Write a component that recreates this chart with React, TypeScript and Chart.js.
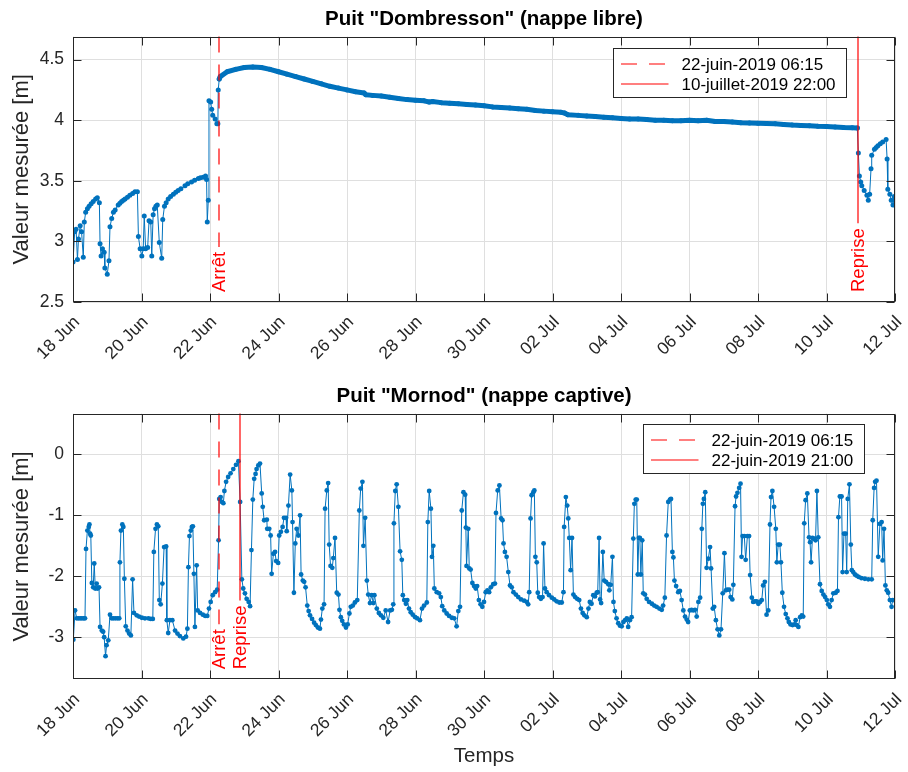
import React, { useEffect, useRef } from "react";
import { Chart, registerables } from "chart.js";

Chart.register(...registerables);

const FONT = '"Liberation Sans", Arial, Helvetica, sans-serif';
const AXIS_COLOR = "#262626";
const GRID_COLOR = "#dfdfdf";
const SERIES_COLOR = "#0072BD";
const EVENT_COLOR = "#FF0000";

// x axis: days since 18 Jun 2019 00:00
const X_TICK_DAYS = [0, 2, 4, 6, 8, 10, 12, 14, 16, 18, 20, 22, 24];
const X_TICK_LABELS = ["18 Jun", "20 Jun", "22 Jun", "24 Jun", "26 Jun", "28 Jun", "30 Jun", "02 Jul", "04 Jul", "06 Jul", "08 Jul", "10 Jul", "12 Jul"];
const DOMBRESSON_Y_TICKS = [2.5, 3, 3.5, 4, 4.5];
const MORNOD_Y_TICKS = [-3, -2, -1, 0];

const DOMBRESSON_TITLE = 'Puit "Dombresson" (nappe libre)';
const MORNOD_TITLE = 'Puit "Mornod" (nappe captive)';
const Y_LABEL = "Valeur mesurée [m]";
const X_LABEL = "Temps";

const DOMBRESSON_EVENTS = [
  { day: 4.2604, label: "Arrêt", legend: "22-juin-2019 06:15", dashed: true },
  { day: 22.9167, label: "Reprise", legend: "10-juillet-2019 22:00", dashed: false },
];
const MORNOD_EVENTS = [
  { day: 4.2604, label: "Arrêt", legend: "22-juin-2019 06:15", dashed: true },
  { day: 4.875, label: "Reprise", legend: "22-juin-2019 21:00", dashed: false },
];

// Puit "Dombresson" — [day, level m]
const DOMBRESSON: [number, number][] = [
  [0.00, 2.83], [0.05, 3.08], [0.09, 3.10], [0.13, 2.85], [0.16, 3.02], [0.21, 3.13], [0.25, 3.08], [0.30, 2.87],
  [0.33, 3.16], [0.37, 3.24], [0.42, 3.27], [0.47, 3.29], [0.53, 3.31], [0.59, 3.33], [0.66, 3.35], [0.71, 3.36],
  [0.77, 3.32], [0.79, 2.98], [0.82, 2.88], [0.86, 2.94], [0.91, 2.91], [0.93, 2.78], [1.00, 2.73], [1.05, 2.84],
  [1.08, 3.12], [1.13, 3.19], [1.18, 3.24], [1.23, 3.26], [1.32, 3.30], [1.37, 3.315], [1.42, 3.33], [1.47, 3.34],
  [1.52, 3.35], [1.59, 3.365], [1.66, 3.38], [1.74, 3.395], [1.81, 3.41], [1.88, 3.41], [1.91, 3.04], [1.96, 2.94],
  [2.01, 2.88], [2.05, 2.94], [2.08, 3.21], [2.12, 2.94], [2.18, 2.95], [2.22, 3.17], [2.27, 3.16], [2.30, 2.88],
  [2.34, 3.22], [2.38, 3.27], [2.42, 3.29], [2.46, 3.30], [2.52, 2.99], [2.59, 2.86], [2.62, 3.18], [2.67, 3.29],
  [2.72, 3.32], [2.78, 3.35], [2.85, 3.37], [2.93, 3.39], [3.00, 3.405], [3.07, 3.42], [3.15, 3.435], [3.27, 3.46],
  [3.35, 3.475], [3.46, 3.49], [3.55, 3.505], [3.66, 3.52], [3.72, 3.525], [3.80, 3.53], [3.87, 3.54], [3.90, 3.51],
  [3.92, 3.16], [3.95, 3.34], [3.97, 4.16], [4.02, 4.15], [4.05, 4.09], [4.08, 4.04], [4.15, 4.01], [4.20, 3.97],
  [4.23, 3.97], [4.24, 4.25], [4.27, 4.34], [4.30, 4.36], [4.50, 4.40], [4.75, 4.42], [5.00, 4.435], [5.25, 4.44],
  [5.50, 4.435], [5.75, 4.42], [6.00, 4.40], [6.25, 4.38], [6.50, 4.36], [6.75, 4.34], [7.00, 4.32], [7.25, 4.30],
  [7.50, 4.28], [7.75, 4.265], [8.00, 4.25], [8.25, 4.235], [8.50, 4.225], [8.55, 4.21], [8.75, 4.205], [9.00, 4.20],
  [9.25, 4.19], [9.50, 4.18], [9.75, 4.17], [10.00, 4.165], [10.25, 4.16], [10.40, 4.15], [10.50, 4.155], [10.75, 4.145],
  [11.00, 4.14], [11.25, 4.135], [11.50, 4.13], [11.75, 4.125], [12.00, 4.12], [12.25, 4.11], [12.50, 4.105], [12.75, 4.10],
  [13.00, 4.095], [13.25, 4.09], [13.50, 4.08], [13.75, 4.075], [14.00, 4.07], [14.25, 4.065], [14.35, 4.06], [14.45, 4.045],
  [14.75, 4.04], [15.00, 4.035], [15.25, 4.03], [15.50, 4.025], [15.75, 4.02], [16.00, 4.015], [16.25, 4.01], [16.50, 4.01],
  [16.75, 4.005], [17.00, 4.00], [17.25, 4.00], [17.50, 3.995], [17.75, 3.995], [18.00, 4.00], [18.25, 3.995], [18.50, 4.00],
  [18.75, 3.99], [19.00, 3.99], [19.25, 3.985], [19.50, 3.98], [19.75, 3.978], [20.00, 3.975], [20.25, 3.972], [20.50, 3.97],
  [20.75, 3.965], [21.00, 3.96], [21.25, 3.957], [21.50, 3.955], [21.75, 3.95], [22.00, 3.948], [22.25, 3.945], [22.50, 3.94],
  [22.75, 3.938], [22.90, 3.935], [22.93, 3.73], [22.96, 3.54], [23.00, 3.49], [23.03, 3.46], [23.10, 3.42], [23.18, 3.38],
  [23.22, 3.34], [23.26, 3.39], [23.30, 3.60], [23.32, 3.71], [23.40, 3.76], [23.45, 3.775], [23.50, 3.79], [23.57, 3.805],
  [23.64, 3.82], [23.74, 3.84], [23.77, 3.68], [23.79, 3.43], [23.85, 3.39], [23.89, 3.34], [23.94, 3.30], [23.98, 3.37],
  [24.00, 3.35],
];
// stretch of continuous logging drawn as a dense (thick) trace
const DOMBRESSON_DENSE: [number, number] = [4.26, 22.91];

// Puit "Mornod" — [day, level m]
const MORNOD: [number, number][] = [
  [0.01, -3.04], [0.06, -2.56], [0.11, -2.69], [0.16, -2.69], [0.21, -2.69], [0.26, -2.69], [0.31, -2.69], [0.35, -2.69],
  [0.38, -1.55], [0.42, -1.25], [0.46, -1.19], [0.48, -1.15], [0.50, -1.30], [0.52, -1.33], [0.55, -2.11], [0.59, -2.18],
  [0.62, -1.79], [0.65, -2.20], [0.69, -2.12], [0.72, -2.20], [0.76, -2.18], [0.79, -2.83], [0.84, -2.89], [0.88, -2.91],
  [0.91, -3.00], [0.95, -3.31], [0.98, -3.13], [1.03, -3.05], [1.08, -2.63], [1.13, -2.69], [1.18, -2.69], [1.24, -2.69],
  [1.30, -2.69], [1.35, -2.69], [1.37, -1.77], [1.40, -1.25], [1.44, -1.15], [1.47, -1.19], [1.50, -2.04], [1.54, -2.82],
  [1.59, -2.89], [1.64, -2.94], [1.69, -2.97], [1.74, -2.05], [1.78, -2.60], [1.86, -2.64], [1.93, -2.66], [2.01, -2.68],
  [2.10, -2.69], [2.20, -2.69], [2.27, -2.70], [2.33, -2.70], [2.36, -1.60], [2.41, -1.22], [2.45, -1.15], [2.49, -1.18],
  [2.52, -2.39], [2.56, -2.46], [2.61, -2.12], [2.66, -1.52], [2.72, -1.51], [2.74, -2.72], [2.78, -2.93], [2.83, -2.72],
  [2.90, -2.72], [2.98, -2.89], [3.05, -2.94], [3.12, -2.98], [3.22, -3.02], [3.30, -2.99], [3.34, -2.86], [3.37, -1.85],
  [3.40, -1.34], [3.44, -1.25], [3.47, -1.19], [3.50, -1.18], [3.53, -1.96], [3.56, -2.83], [3.61, -1.82], [3.64, -2.56],
  [3.71, -2.60], [3.79, -2.63], [3.86, -2.65], [3.92, -2.65], [3.97, -2.53], [4.02, -2.42], [4.08, -2.31], [4.15, -2.26],
  [4.21, -2.22], [4.25, -1.41], [4.27, -0.73], [4.31, -0.70], [4.35, -0.78], [4.39, -0.80], [4.42, -0.60], [4.47, -0.45],
  [4.53, -0.37], [4.60, -0.31], [4.68, -0.24], [4.76, -0.17], [4.83, -0.11], [4.88, -0.78], [4.93, -2.05], [4.97, -2.20],
  [5.02, -2.28], [5.07, -2.37], [5.13, -2.42], [5.17, -2.49], [5.21, -1.57], [5.25, -0.74], [5.29, -0.40], [5.33, -0.32],
  [5.36, -0.24], [5.41, -0.18], [5.46, -0.15], [5.51, -0.64], [5.54, -0.86], [5.58, -1.08], [5.66, -1.07], [5.67, -1.22],
  [5.73, -1.22], [5.77, -1.33], [5.80, -1.96], [5.85, -1.63], [5.90, -1.60], [5.93, -1.75], [5.99, -1.78], [6.02, -1.33],
  [6.07, -1.27], [6.12, -1.19], [6.16, -1.04], [6.22, -1.04], [6.24, -1.26], [6.29, -0.84], [6.34, -0.33], [6.39, -0.59],
  [6.41, -1.11], [6.45, -2.27], [6.49, -1.46], [6.53, -1.22], [6.58, -1.33], [6.63, -1.00], [6.66, -1.97], [6.71, -2.07],
  [6.75, -2.09], [6.79, -2.18], [6.84, -2.48], [6.88, -2.57], [6.92, -2.64], [6.98, -2.70], [7.04, -2.76], [7.09, -2.80],
  [7.15, -2.84], [7.21, -2.86], [7.24, -2.71], [7.28, -2.53], [7.33, -2.46], [7.36, -0.89], [7.41, -0.59], [7.45, -0.47],
  [7.48, -1.48], [7.52, -1.83], [7.57, -1.86], [7.60, -1.70], [7.65, -1.37], [7.70, -2.27], [7.75, -2.30], [7.78, -2.55],
  [7.82, -2.67], [7.86, -2.73], [7.91, -2.79], [7.97, -2.84], [8.02, -2.79], [8.07, -2.61], [8.11, -2.50], [8.17, -2.48],
  [8.23, -2.43], [8.30, -2.39], [8.36, -0.92], [8.40, -0.56], [8.45, -0.45], [8.48, -1.50], [8.53, -1.04], [8.58, -2.07],
  [8.62, -2.30], [8.67, -2.44], [8.72, -2.31], [8.77, -2.44], [8.80, -2.31], [8.87, -2.53], [8.93, -2.60], [8.99, -2.64],
  [9.06, -2.68], [9.13, -2.56], [9.20, -2.75], [9.26, -2.56], [9.31, -2.55], [9.35, -2.46], [9.37, -1.13], [9.41, -0.60],
  [9.45, -0.49], [9.50, -0.86], [9.55, -1.59], [9.60, -1.73], [9.63, -2.31], [9.67, -2.39], [9.72, -2.45], [9.76, -2.39],
  [9.81, -2.53], [9.86, -2.59], [9.92, -2.63], [9.99, -2.67], [10.05, -2.69], [10.13, -2.72], [10.19, -2.53], [10.25, -2.48],
  [10.33, -2.43], [10.36, -1.11], [10.40, -0.60], [10.45, -0.89], [10.48, -1.68], [10.52, -1.50], [10.55, -2.20], [10.62, -2.26],
  [10.69, -2.28], [10.74, -2.34], [10.78, -2.49], [10.84, -2.56], [10.91, -2.61], [10.98, -2.65], [11.06, -2.68], [11.13, -2.69],
  [11.20, -2.82], [11.25, -2.57], [11.30, -2.50], [11.35, -0.92], [11.40, -0.62], [11.45, -0.66], [11.47, -1.20], [11.49, -1.83],
  [11.54, -1.22], [11.57, -1.87], [11.61, -1.89], [11.66, -2.11], [11.71, -2.16], [11.76, -2.20], [11.80, -2.16], [11.85, -2.39],
  [11.90, -2.46], [11.95, -2.50], [12.00, -2.42], [12.05, -2.26], [12.10, -2.23], [12.15, -2.26], [12.20, -2.18], [12.27, -2.13],
  [12.32, -2.12], [12.35, -0.96], [12.40, -0.59], [12.45, -0.51], [12.50, -1.05], [12.54, -1.08], [12.57, -1.46], [12.61, -1.60],
  [12.66, -1.68], [12.71, -1.93], [12.76, -2.15], [12.81, -2.18], [12.86, -2.26], [12.93, -2.30], [13.00, -2.34], [13.08, -2.38],
  [13.17, -2.40], [13.25, -2.42], [13.29, -2.46], [13.32, -2.26], [13.36, -1.05], [13.39, -0.67], [13.44, -0.62], [13.47, -0.59],
  [13.50, -1.68], [13.54, -1.77], [13.57, -2.27], [13.61, -2.34], [13.66, -2.37], [13.71, -2.34], [13.74, -1.46], [13.78, -2.20],
  [13.83, -2.26], [13.90, -2.31], [13.98, -2.35], [14.05, -2.38], [14.12, -2.41], [14.20, -2.43], [14.27, -2.43], [14.32, -2.26],
  [14.34, -1.19], [14.39, -0.70], [14.43, -0.84], [14.46, -1.05], [14.49, -1.37], [14.53, -1.90], [14.57, -1.37], [14.61, -2.30],
  [14.66, -2.34], [14.72, -2.37], [14.78, -2.39], [14.83, -2.53], [14.88, -2.60], [14.93, -2.64], [15.00, -2.67], [15.05, -2.53],
  [15.09, -2.42], [15.14, -2.45], [15.19, -2.31], [15.24, -2.33], [15.29, -2.27], [15.32, -2.26], [15.36, -1.37], [15.39, -2.38],
  [15.42, -2.44], [15.47, -1.60], [15.51, -2.07], [15.56, -2.09], [15.63, -2.13], [15.66, -2.23], [15.70, -2.14], [15.75, -1.68],
  [15.78, -2.42], [15.82, -2.57], [15.87, -2.69], [15.92, -2.77], [15.97, -2.81], [16.02, -2.82], [16.07, -2.75], [16.12, -2.72],
  [16.17, -2.69], [16.21, -2.83], [16.26, -2.72], [16.31, -2.67], [16.36, -1.38], [16.39, -0.81], [16.43, -0.74], [16.46, -0.74],
  [16.49, -1.97], [16.52, -1.37], [16.55, -1.37], [16.58, -1.97], [16.62, -1.41], [16.65, -2.28], [16.70, -2.30], [16.75, -2.37],
  [16.82, -2.42], [16.90, -2.45], [16.97, -2.48], [17.04, -2.50], [17.12, -2.53], [17.19, -2.55], [17.23, -2.48], [17.28, -2.35],
  [17.33, -1.33], [17.38, -0.78], [17.43, -0.74], [17.46, -0.73], [17.50, -1.60], [17.53, -1.69], [17.56, -2.07], [17.61, -2.16],
  [17.67, -2.26], [17.72, -2.24], [17.77, -2.39], [17.82, -2.56], [17.87, -2.66], [17.92, -2.71], [17.96, -2.75], [18.01, -2.56],
  [18.06, -2.55], [18.11, -2.56], [18.16, -2.55], [18.21, -2.66], [18.26, -2.42], [18.31, -2.35], [18.36, -1.22], [18.39, -0.81],
  [18.42, -0.73], [18.46, -0.62], [18.50, -1.86], [18.55, -1.71], [18.60, -1.52], [18.63, -1.87], [18.68, -2.53], [18.72, -2.50],
  [18.77, -2.72], [18.82, -2.87], [18.87, -2.97], [18.92, -2.87], [18.97, -2.28], [19.02, -1.62], [19.06, -2.23], [19.10, -2.22],
  [19.16, -2.22], [19.20, -2.34], [19.25, -2.38], [19.28, -2.14], [19.33, -0.85], [19.36, -0.69], [19.40, -0.63], [19.45, -0.55],
  [19.49, -0.48], [19.52, -1.68], [19.55, -1.34], [19.60, -1.34], [19.64, -1.73], [19.69, -1.34], [19.74, -1.34], [19.77, -1.98],
  [19.82, -2.35], [19.86, -2.42], [19.91, -2.41], [19.96, -2.41], [20.01, -2.45], [20.06, -2.42], [20.11, -2.39], [20.15, -2.15],
  [20.20, -2.09], [20.25, -2.63], [20.30, -2.56], [20.35, -1.15], [20.38, -0.70], [20.42, -0.60], [20.47, -0.86], [20.52, -1.22],
  [20.55, -1.77], [20.59, -1.48], [20.64, -1.48], [20.67, -1.77], [20.71, -2.27], [20.76, -2.50], [20.81, -2.62], [20.86, -2.69],
  [20.90, -2.75], [20.95, -2.79], [21.01, -2.80], [21.06, -2.79], [21.10, -2.72], [21.13, -2.80], [21.18, -2.83], [21.23, -2.67],
  [21.28, -2.64], [21.32, -2.66], [21.35, -1.13], [21.39, -0.75], [21.44, -0.64], [21.49, -1.36], [21.52, -1.44], [21.55, -1.77],
  [21.59, -1.37], [21.64, -1.38], [21.68, -1.41], [21.72, -0.60], [21.76, -1.36], [21.81, -2.13], [21.86, -2.24], [21.91, -2.30],
  [21.96, -2.34], [22.01, -2.39], [22.05, -2.46], [22.10, -2.50], [22.15, -2.39], [22.20, -2.28], [22.27, -2.27], [22.32, -2.24],
  [22.35, -1.03], [22.39, -0.69], [22.44, -0.69], [22.47, -1.93], [22.51, -1.30], [22.56, -1.30], [22.59, -1.93], [22.62, -0.73],
  [22.67, -0.49], [22.71, -1.48], [22.74, -1.90], [22.78, -1.93], [22.83, -1.97], [22.88, -1.99], [22.94, -2.01], [23.02, -2.03],
  [23.12, -2.04], [23.22, -2.05], [23.32, -2.05], [23.35, -1.08], [23.39, -0.55], [23.42, -0.45], [23.46, -0.43], [23.51, -1.68],
  [23.56, -1.14], [23.61, -1.11], [23.64, -1.74], [23.68, -1.22], [23.72, -2.15], [23.76, -2.23], [23.80, -2.27], [23.85, -2.39],
  [23.90, -2.50], [23.93, -2.39], [23.98, -2.39],
];

type EventMark = { day: number; label: string; legend: string; dashed: boolean };

const TICK_LEN = 8;
const DASH = [16, 12];

function makeDecor(events: EventMark[], legendDx: number, legendDy: number) {
  return {
    id: "matlabDecor",
    afterDatasetsDraw(chart: any) {
      const { ctx, chartArea: a } = chart;
      const xs = chart.scales.x;
      const ys = chart.scales.y;
      ctx.save();
      // vertical event lines with rotated labels
      for (const ev of events) {
        const x = Math.round(xs.getPixelForValue(ev.day));
        ctx.font = `18.5px ${FONT}`;
        const tw = ctx.measureText(ev.label).width;
        const base = a.bottom - 10;
        ctx.strokeStyle = EVENT_COLOR;
        ctx.lineWidth = 1.2;
        ctx.setLineDash(ev.dashed ? DASH : []);
        ctx.beginPath();
        ctx.moveTo(x, a.top);
        ctx.lineTo(x, base - tw - 5);
        ctx.stroke();
        ctx.setLineDash([]);
        ctx.save();
        ctx.translate(x, base);
        ctx.rotate(-Math.PI / 2);
        ctx.fillStyle = EVENT_COLOR;
        ctx.textAlign = "left";
        ctx.textBaseline = "middle";
        ctx.fillText(ev.label, 0, 1);
        ctx.restore();
      }
      // axes box with inward ticks
      const L = Math.round(a.left) + 0.5;
      const R = Math.round(a.right) - 0.5;
      const T = Math.round(a.top) + 0.5;
      const B = Math.round(a.bottom) - 0.5;
      ctx.strokeStyle = AXIS_COLOR;
      ctx.lineWidth = 1;
      ctx.strokeRect(L, T, R - L, B - T);
      ctx.beginPath();
      for (const t of xs.ticks) {
        const px = Math.round(xs.getPixelForValue(t.value)) + 0.5;
        ctx.moveTo(px, B);
        ctx.lineTo(px, B - TICK_LEN);
        ctx.moveTo(px, T);
        ctx.lineTo(px, T + TICK_LEN);
      }
      for (const t of ys.ticks) {
        const py = Math.round(ys.getPixelForValue(t.value)) + 0.5;
        ctx.moveTo(L, py);
        ctx.lineTo(L + TICK_LEN, py);
        ctx.moveTo(R, py);
        ctx.lineTo(R - TICK_LEN, py);
      }
      ctx.stroke();
      // legend
      ctx.font = `17px ${FONT}`;
      const textW = Math.max(...events.map((e) => ctx.measureText(e.legend).width));
      const bx = Math.round(a.left + legendDx) + 0.5;
      const by = Math.round(a.top + legendDy) + 0.5;
      const bw = Math.round(7.5 + 47.5 + 13 + textW + 11);
      const bh = 49;
      ctx.fillStyle = "#ffffff";
      ctx.fillRect(bx, by, bw, bh);
      ctx.strokeStyle = AXIS_COLOR;
      ctx.lineWidth = 1;
      ctx.strokeRect(bx, by, bw, bh);
      events.forEach((e, i) => {
        const cy = Math.round(by + 15 + 20 * i);
        ctx.strokeStyle = EVENT_COLOR;
        ctx.lineWidth = 1.2;
        ctx.setLineDash(e.dashed ? DASH : []);
        ctx.beginPath();
        ctx.moveTo(bx + 7.5, cy);
        ctx.lineTo(bx + 55, cy);
        ctx.stroke();
        ctx.setLineDash([]);
        ctx.fillStyle = "#000000";
        ctx.textAlign = "left";
        ctx.textBaseline = "middle";
        ctx.fillText(e.legend, bx + 68, cy + 1);
      });
      ctx.restore();
    },
  };
}

type PanelOpts = {
  data: [number, number][];
  yMin: number;
  yMax: number;
  yTicks: number[];
  title: string;
  titlePad: { top: number; bottom: number };
  xHeight: number;
  xLabel: string | null;
  events: EventMark[];
  legendDx: number;
  legendDy: number;
  dense: [number, number] | null;
  pointRadius: number;
};

function buildConfig(o: PanelOpts): any {
  const dense = o.dense;
  return {
    type: "line",
    data: {
      datasets: [
        {
          data: o.data.map(([x, y]) => ({ x, y })),
          borderColor: SERIES_COLOR,
          backgroundColor: SERIES_COLOR,
          borderWidth: 1,
          borderJoinStyle: "round",
          borderCapStyle: "round",
          pointRadius: o.pointRadius,
          pointHoverRadius: o.pointRadius,
          pointBorderWidth: 0,
          tension: 0,
          segment: dense
            ? {
                borderWidth: (c: any) =>
                  c.p0.parsed.x >= dense[0] && c.p1.parsed.x <= dense[1] ? 5 : 1,
              }
            : undefined,
        },
      ],
    },
    options: {
      animation: false,
      responsive: false,
      devicePixelRatio: 1,
      events: [],
      layout: { padding: { left: 0, right: 13, top: 0, bottom: 0 } },
      plugins: {
        legend: { display: false },
        tooltip: { enabled: false },
        title: {
          display: true,
          fullSize: false,
          text: o.title,
          color: "#000000",
          font: { family: FONT, size: 20.5, weight: "bold" },
          padding: o.titlePad,
        },
      },
      scales: {
        x: {
          type: "linear",
          min: 0,
          max: 24,
          afterBuildTicks: (s: any) => {
            s.ticks = X_TICK_DAYS.map((v) => ({ value: v }));
          },
          afterFit: (s: any) => {
            s.height = o.xHeight;
            s.paddingLeft = 0;
            s.paddingRight = 0;
          },
          grid: { color: GRID_COLOR, drawTicks: false, lineWidth: 1 },
          border: { display: false },
          ticks: {
            autoSkip: false,
            minRotation: 45,
            maxRotation: 45,
            padding: 10,
            labelOffset: 4,
            color: AXIS_COLOR,
            font: { family: FONT, size: 17.5 },
            callback: (v: number) => {
              const i = X_TICK_DAYS.indexOf(v);
              return i >= 0 ? X_TICK_LABELS[i] : "";
            },
          },
          title: o.xLabel
            ? {
                display: true,
                text: o.xLabel,
                color: AXIS_COLOR,
                font: { family: FONT, size: 20.5 },
                padding: { top: 0, bottom: 3 },
              }
            : { display: false },
        },
        y: {
          type: "linear",
          min: o.yMin,
          max: o.yMax,
          afterBuildTicks: (s: any) => {
            s.ticks = o.yTicks.map((v) => ({ value: v }));
          },
          afterFit: (s: any) => {
            s.width = 73;
          },
          grid: { color: GRID_COLOR, drawTicks: false, lineWidth: 1 },
          border: { display: false },
          ticks: {
            padding: 9,
            color: AXIS_COLOR,
            font: { family: FONT, size: 17.5 },
            callback: (v: number) => String(v),
          },
          title: {
            display: true,
            text: Y_LABEL,
            color: AXIS_COLOR,
            font: { family: FONT, size: 22 },
            padding: { top: 9, bottom: 0 },
          },
        },
      },
    },
    plugins: [makeDecor(o.events, o.legendDx, o.legendDy)],
  };
}

export default function App() {
  const topRef = useRef<HTMLCanvasElement>(null);
  const botRef = useRef<HTMLCanvasElement>(null);

  useEffect(() => {
    Chart.defaults.font.family = FONT;
    const c1 = new Chart(
      topRef.current as HTMLCanvasElement,
      buildConfig({
        data: DOMBRESSON,
        yMin: 2.5,
        yMax: 4.69,
        yTicks: DOMBRESSON_Y_TICKS,
        title: DOMBRESSON_TITLE,
        titlePad: { top: 7, bottom: 5 },
        xHeight: 78,
        xLabel: null,
        events: DOMBRESSON_EVENTS,
        legendDx: 540,
        legendDy: 11,
        dense: DOMBRESSON_DENSE,
        pointRadius: 2.5,
      })
    );
    const c2 = new Chart(
      botRef.current as HTMLCanvasElement,
      buildConfig({
        data: MORNOD,
        yMin: -3.69,
        yMax: 0.67,
        yTicks: MORNOD_Y_TICKS,
        title: MORNOD_TITLE,
        titlePad: { top: 4, bottom: 5 },
        xHeight: 92.7,
        xLabel: X_LABEL,
        events: MORNOD_EVENTS,
        legendDx: 570,
        legendDy: 10,
        dense: null,
        pointRadius: 2.4,
      })
    );
    return () => {
      c1.destroy();
      c2.destroy();
    };
  }, []);

  return (
    <div style={{ position: "absolute", left: 0, top: 0, width: 908, height: 772, background: "#ffffff" }}>
      <canvas
        ref={topRef}
        width={908}
        height={380}
        style={{ position: "absolute", left: 0, top: 0, width: 908, height: 380 }}
      />
      <canvas
        ref={botRef}
        width={908}
        height={392}
        style={{ position: "absolute", left: 0, top: 380, width: 908, height: 392 }}
      />
    </div>
  );
}
